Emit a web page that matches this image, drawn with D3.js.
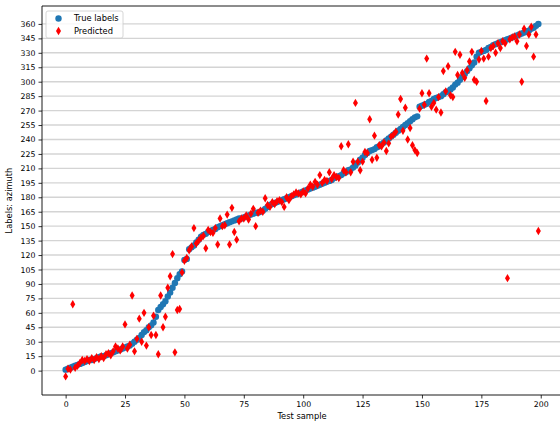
<!DOCTYPE html>
<html>
<head>
<meta charset="utf-8">
<script src="https://cdn.jsdelivr.net/npm/d3@7"></script>
<style>
  body { margin: 0; background: #fff; }
  svg { display: block; font-family: "DejaVu Sans", sans-serif; }
</style>
</head>
<body>
<div id="chart"></div>
<script>
// true azimuth labels, sorted (index = test sample)
const trueLabels = [
  1, 2, 3, 4, 5, 6, 7, 8, 9, 10,
  11, 11, 12, 13, 14, 15, 15, 16, 17, 18,
  19, 20, 21, 22, 23, 24, 25, 26, 28, 30,
  32, 34, 37, 40, 42, 45, 47, 50, 56, 63,
  66, 69, 72, 77, 81, 86, 91, 96, 100, 103,
  115, 116, 126, 128, 130, 133, 136, 139, 141, 142,
  144, 145, 146, 147, 149, 150, 151, 152, 153, 154,
  155, 156, 157, 158, 158, 159, 160, 161, 162, 163,
  164, 164, 165, 166, 168, 170, 172, 173, 174, 175,
  176, 177, 178, 179, 180, 181, 182, 183, 184, 185,
  186, 187, 188, 189, 190, 191, 192, 193, 194, 195,
  196, 197, 198, 200, 201, 202, 203, 205, 206, 208,
  209, 211, 213, 216, 219, 221, 224, 226, 228, 229,
  230, 232, 233, 235, 237, 239, 241, 243, 245, 247,
  249, 251, 253, 255, 257, 259, 261, 263, 264, 274,
  275, 276, 277, 279, 280, 282, 283, 284, 285, 287,
  289, 290, 292, 294, 297, 299, 302, 305, 308, 311,
  314, 317, 320, 326, 330, 331, 332, 333, 335, 336,
  338, 339, 340, 341, 342, 343, 344, 345, 346, 347,
  348, 349, 350, 351, 352, 353, 355, 356, 358, 360
];

const predicted = [
  -6, 2, 1, 69, 3, 5, 8, 11, 10, 12,
  10, 13, 11, 14, 12, 15, 13, 17, 18, 16,
  20, 25, 23, 21, 25, 48, 23, 27, 78, 20,
  33, 54, 30, 60, 26, 45, 37, 57, 37, 17,
  78, 45, 56, 86, 98, 121, 19, 63, 64, 102,
  114, 117, 125, 129, 148, 132, 135, 138, 140, 127,
  146, 144, 143, 148, 131, 158, 150, 151, 162, 131,
  169, 144, 136, 155, 158, 158, 161, 157, 163, 168,
  150, 164, 166, 165, 179, 172, 170, 175, 173, 176,
  177, 175, 170, 180, 177, 181, 183, 185, 184, 183,
  186, 184, 189, 193, 191, 196, 193, 203, 195, 198,
  197, 206, 199, 203, 201, 200, 233, 208, 206, 235,
  206, 217, 278, 217, 208, 217, 227, 226, 261, 219,
  244, 221, 234, 233, 237, 228, 236, 243, 245, 248,
  266, 282, 249, 273, 240, 252, 234, 229, 226, 272,
  288, 276, 324, 288, 274, 278, 271, 284, 268, 311,
  290, 316, 286, 284, 331, 307, 328, 309, 304, 312,
  321, 331, 302, 300, 323, 332, 324, 280, 326, 335,
  337, 330, 340, 335, 342, 340, 96, 344, 346, 347,
  342, 349, 300, 355, 337, 349, 357, 326, 349, 145
];

const xTicks = [0, 25, 50, 75, 100, 125, 150, 175, 200];
const yTicks = d3.range(0, 361, 15);

const width = 560, height = 421;
const margin = { top: 6, right: -2, bottom: 26, left: 42 };

const svg = d3.select("#chart").append("svg")
    .attr("width", width)
    .attr("height", height);

const x = d3.scaleLinear()
    .domain([-9.95, 208.95])
    .range([margin.left, width - margin.right]);

const y = d3.scaleLinear()
    .domain([-25.3, 378.6])
    .range([height - margin.bottom, margin.top]);

// horizontal grid
svg.append("g")
    .selectAll("line")
    .data(yTicks)
    .join("line")
    .attr("x1", margin.left)
    .attr("x2", width - margin.right)
    .attr("y1", d => y(d))
    .attr("y2", d => y(d))
    .attr("stroke", "#d4d4d4")
    .attr("stroke-width", 1.4);

// axes
const xAxis = svg.append("g")
    .attr("transform", `translate(0,${height - margin.bottom})`)
    .call(d3.axisBottom(x).tickValues(xTicks).tickSize(3.5).tickPadding(3));

const yAxis = svg.append("g")
    .attr("transform", `translate(${margin.left},0)`)
    .call(d3.axisLeft(y).tickValues(yTicks).tickSize(3.5).tickPadding(3));

[xAxis, yAxis].forEach(a => {
    a.select(".domain").remove();
    a.selectAll("line").attr("stroke", "#000").attr("stroke-width", 0.8);
    a.selectAll("text")
        .attr("fill", "#000")
        .style("font-family", "DejaVu Sans")
        .style("font-size", "7.8px");
});

// spines
const sp = svg.append("g").attr("stroke", "#000").attr("stroke-width", 0.9);
sp.append("line").attr("x1", margin.left).attr("x2", margin.left)
    .attr("y1", margin.top).attr("y2", height - margin.bottom);
sp.append("line").attr("x1", margin.left).attr("x2", width)
    .attr("y1", height - margin.bottom).attr("y2", height - margin.bottom);
sp.append("line").attr("x1", margin.left).attr("x2", width)
    .attr("y1", margin.top).attr("y2", margin.top);

// true labels
svg.append("g")
    .selectAll("circle")
    .data(trueLabels)
    .join("circle")
    .attr("cx", (d, i) => x(i))
    .attr("cy", d => y(d))
    .attr("r", 3.2)
    .attr("fill", "#1f77b4");

// predicted, thin diamonds
const diamond = "M0,-4.2L2.5,0L0,4.2L-2.5,0Z";
svg.append("g")
    .selectAll("path")
    .data(predicted)
    .join("path")
    .attr("d", diamond)
    .attr("transform", (d, i) => `translate(${x(i)},${y(d)})`)
    .attr("fill", "red");

// axis labels
svg.append("text")
    .attr("x", (margin.left + width - margin.right) / 2)
    .attr("y", 419)
    .attr("text-anchor", "middle")
    .style("font-size", "8.3px")
    .text("Test sample");

svg.append("text")
    .attr("transform", `translate(12,${(margin.top + height - margin.bottom) / 2}) rotate(-90)`)
    .attr("text-anchor", "middle")
    .style("font-size", "8.3px")
    .text("Labels: azimuth");

// legend
const lg = svg.append("g");
lg.append("rect")
    .attr("x", 46).attr("y", 11)
    .attr("width", 77).attr("height", 27)
    .attr("rx", 2)
    .attr("fill", "#fff").attr("fill-opacity", 0.8)
    .attr("stroke", "#ccc").attr("stroke-width", 0.8);
lg.append("circle").attr("cx", 58.5).attr("cy", 18.5).attr("r", 3.2).attr("fill", "#1f77b4");
lg.append("path").attr("d", diamond).attr("transform", "translate(58.5,31)").attr("fill", "red");
lg.append("text").attr("x", 74).attr("y", 21.3).style("font-size", "8.3px").text("True labels");
lg.append("text").attr("x", 74).attr("y", 34).style("font-size", "8.3px").text("Predicted");
</script>
</body>
</html>
